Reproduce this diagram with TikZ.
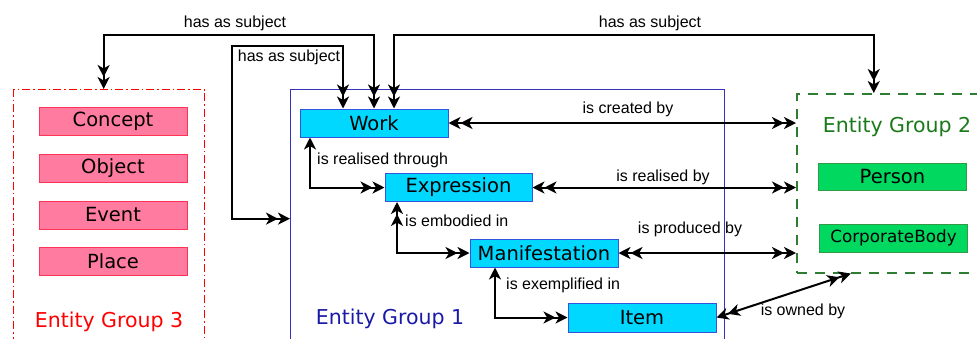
\documentclass[tikz,border=0pt]{standalone}
\usepackage{fontspec}
\setmainfont{DejaVu Sans}
\newfontfamily\lblfont{Liberation Sans}
\usetikzlibrary{arrows.meta}

\definecolor{pinkfill}{HTML}{FF7BA0}
\definecolor{pinkdraw}{HTML}{FF3355}
\definecolor{cyanfill}{HTML}{00D8FF}
\definecolor{cyandraw}{HTML}{3355DD}
\definecolor{greenfill}{HTML}{00D860}
\definecolor{greendraw}{HTML}{339944}
\definecolor{grpone}{HTML}{3333BB}
\definecolor{grponetext}{HTML}{1A1AA8}
\definecolor{grptwo}{HTML}{2E7D32}
\definecolor{grptwotext}{HTML}{1A7A1A}

\tikzset{
  entity/.style={draw, line width=1pt, minimum width=148pt, minimum height=28pt,
    inner sep=0pt, font=\fontsize{19.5}{22}\selectfont},
  subj/.style={entity, fill=pinkfill, draw=pinkdraw},
  frbr/.style={entity, fill=cyanfill, draw=cyandraw},
  agent/.style={entity, fill=greenfill, draw=greendraw},
  grouplbl/.style={inner sep=0pt, font=\fontsize{20.5}{23}\selectfont},
  rel/.style={inner sep=0pt, font=\lblfont\fontsize{16}{18}\selectfont},
  link/.style={line width=2pt},
}

\newcommand{\hd}{Stealth[length=12pt,width=12pt,inset=3.5pt]}

\begin{document}
\begin{tikzpicture}[x=1pt,y=-1pt]
  \useasboundingbox (0,0) rectangle (977,338);
  \clip (0,0) rectangle (977,338);

  \node[draw=red, line width=1.3pt, dash pattern=on 8pt off 3pt on 1.5pt off 3pt,
    minimum width=191pt, minimum height=270pt, anchor=north west] (g3) at (13,89) {};
  \node[draw=grpone, line width=1.3pt,
    minimum width=434pt, minimum height=270pt, anchor=north west] (g1) at (290,89) {};
  \node[draw=grptwo, line width=1.5pt, dash pattern=on 10pt off 8pt,
    minimum width=200pt, minimum height=179pt, anchor=north west] (g2) at (796,93) {};

  \node[subj] (concept) at (113,121) {Concept};
  \node[subj] (object) at (113,168) {Object};
  \node[subj] (event) at (113,215) {Event};
  \node[subj] (place) at (113,261) {Place};
  \node[grouplbl, text=red] (g3lbl) at (109,322) {Entity Group 3};

  \node[frbr] (work) at (374,123) {Work};
  \node[frbr, minimum width=147pt] (expression) at (458.5,187.5) {Expression};
  \node[frbr] (manifestation) at (544,253) {Manifestation};
  \node[frbr, minimum height=29pt] (item) at (642,317.5) {Item};
  \node[grouplbl, text=grponetext] (g1lbl) at (390,319) {Entity Group 1};

  \node[grouplbl, text=grptwotext] (g2lbl) at (897,127) {Entity Group 2};
  \node[agent, minimum height=27pt] (person) at (892.5,176.5) {Person};
  \node[agent, font=\fontsize{16.8}{19}\selectfont] (corporatebody) at (893.5,238) {CorporateBody};

  \draw[link, {\hd\hd}-{\hd\hd}] (work.north) -- ++(0,-74) -| ([xshift=-5.5]g3.north);
  \draw[link, {\hd\hd}-{\hd\hd}] ([xshift=-31]work.north) |- (232,46) |- ([yshift=6]g1.west);
  \draw[link, {\hd\hd}-{\hd\hd}] ([xshift=20]work.north) -- ++(0,-74) -| ([xshift=-23]g2.north);
  \node[rel] (hs1) at (235,23) {has as subject};
  \node[rel] (hs2) at (289,57) {has as subject};
  \node[rel] (hs3) at (650,23) {has as subject};

  \draw[link, {\hd\hd}-{\hd\hd}] (work.east) -- (g2.west |- work.east);
  \draw[link, {\hd\hd}-{\hd\hd}] (expression.east) -- (g2.west |- expression.east);
  \draw[link, {\hd\hd}-{\hd\hd}] (manifestation.east) -- (g2.west |- manifestation.east);
  \draw[link, {\hd\hd}-{\hd\hd}] (item.east) -- ([xshift=-46]g2.south);
  \node[rel] (created) at (628,109) {is created by};
  \node[rel] (realisedby) at (663,177) {is realised by};
  \node[rel] (produced) at (690,229) {is produced by};
  \node[rel] (owned) at (803,311) {is owned by};

  \draw[link, {\hd}-{\hd\hd}] ([xshift=-64]work.south) |- (expression.west);
  \draw[link, {\hd\hd}-{\hd\hd}] ([xshift=-61.5]expression.south) |- (manifestation.west);
  \draw[link, {\hd}-{\hd\hd}] ([xshift=-49]manifestation.south) |- (item.west);
  \node[rel, anchor=west] (through) at (317,160) {is realised through};
  \node[rel, anchor=west] (embodied) at (405,221) {is embodied in};
  \node[rel, anchor=west] (exemplified) at (506,285) {is exemplified in};
\end{tikzpicture}
\end{document}
